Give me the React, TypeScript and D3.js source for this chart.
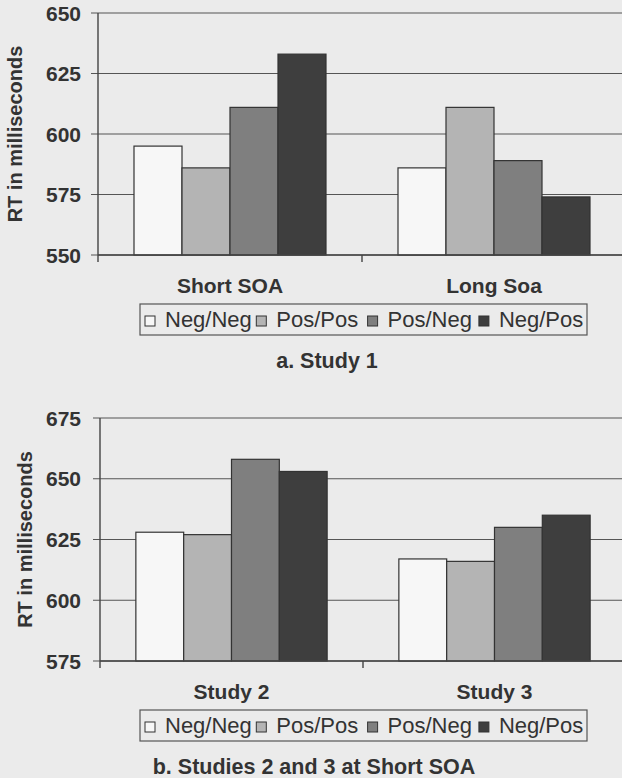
import React from "react";
import * as d3 from "d3";

// series (legend order)
const series = ["Neg/Neg", "Pos/Pos", "Pos/Neg", "Neg/Pos"];
const fills = ["#f7f7f7", "#b4b4b4", "#7f7f7f", "#3e3e3e"];

// Study 1
const catsA = ["Short SOA", "Long Soa"];
const valsA = [
  [595, 586, 611, 633],
  [586, 611, 589, 574],
];
const ticksA = [550, 575, 600, 625, 650];

// Studies 2 and 3
const catsB = ["Study 2", "Study 3"];
const valsB = [
  [628, 627, 658, 653],
  [617, 616, 630, 635],
];
const ticksB = [575, 600, 625, 650, 675];

const INK = "#333";
const FONT = "'Liberation Sans', Arial, sans-serif";

type PanelProps = {
  cats: string[];
  vals: number[][];
  ticks: number[];
  left: number;
  top: number;
  bottom: number;
  title: string;
  titleX: number;
  labelX: number;
};

const Panel = ({ cats, vals, ticks, left, top, bottom, title, titleX, labelX }: PanelProps) => {
  const right = 626;
  const y = d3.scaleLinear().domain(d3.extent(ticks) as [number, number]).range([bottom, top]);
  const x0 = d3.scaleBand<string>().domain(cats).range([left, right]);
  const x1 = d3.scaleBand<string>().domain(series).range([0, x0.bandwidth()]).paddingOuter(0.75);
  const lg = d3.scaleBand<string>().domain(series).range([145, 145 + 4 * 111.3]);
  const legTop = bottom + 49;

  return (
    <g>
      {/* gridlines + tick marks */}
      {ticks.map((t) => (
        <g key={t}>
          <line x1={left - 7} x2={right} y1={y(t)} y2={y(t)} stroke="#555" strokeWidth={1.2} />
          <text x={81} y={y(t)} dy="0.36em" textAnchor="end" fontSize={21} fontWeight="bold" fill={INK}>
            {t}
          </text>
        </g>
      ))}
      {/* bars */}
      {cats.map((c, ci) => (
        <g key={c} transform={`translate(${x0(c)},0)`}>
          {series.map((s, si) => (
            <rect
              key={s}
              x={x1(s)}
              y={y(vals[ci][si])}
              width={x1.bandwidth()}
              height={bottom - y(vals[ci][si])}
              fill={fills[si]}
              stroke="#333"
              strokeWidth={1.2}
            />
          ))}
          <text x={x0.bandwidth() / 2} y={bottom + 38} textAnchor="middle" fontSize={21} fontWeight="bold" fill={INK}>
            {c}
          </text>
        </g>
      ))}
      {/* axes */}
      <line x1={left} x2={left} y1={top} y2={bottom + 7} stroke="#444" strokeWidth={1.4} />
      <line x1={left} x2={right} y1={bottom} y2={bottom} stroke="#444" strokeWidth={1.4} />
      {cats.slice(1).map((c) => (
        <line key={c} x1={x0(c)} x2={x0(c)} y1={bottom} y2={bottom + 7} stroke="#444" strokeWidth={1.4} />
      ))}
      <text
        transform={`translate(${labelX},${(top + bottom) / 2}) rotate(-90)`}
        textAnchor="middle"
        dy="0.36em"
        fontSize={20}
        fontWeight="bold"
        fill={INK}
      >
        RT in milliseconds
      </text>
      {/* legend */}
      <rect x={140} y={legTop} width={447} height={31} fill="none" stroke="#555" strokeWidth={1.2} />
      {series.map((s, i) => (
        <g key={s}>
          <rect x={lg(s)} y={legTop + 12} width={10} height={10} fill={fills[i]} stroke="#333" strokeWidth={1} />
          <text x={(lg(s) as number) + 20} y={legTop + 23} fontSize={22} fill={INK}>
            {s}
          </text>
        </g>
      ))}
      <text x={titleX} y={bottom + 113} textAnchor="middle" fontSize={21.5} fontWeight="bold" fill={INK}>
        {title}
      </text>
    </g>
  );
};

export default function App() {
  return (
    <svg
      width={622}
      height={778}
      style={{ position: "absolute", left: 0, top: 0, background: "#ebebeb" }}
      fontFamily={FONT}
    >
      <Panel cats={catsA} vals={valsA} ticks={ticksA} left={98} top={13} bottom={255}
        title="a. Study 1" titleX={327} labelX={15} />
      <Panel cats={catsB} vals={valsB} ticks={ticksB} left={100} top={418} bottom={661}
        title="b. Studies 2 and 3 at Short SOA" titleX={314} labelX={25} />
    </svg>
  );
}
